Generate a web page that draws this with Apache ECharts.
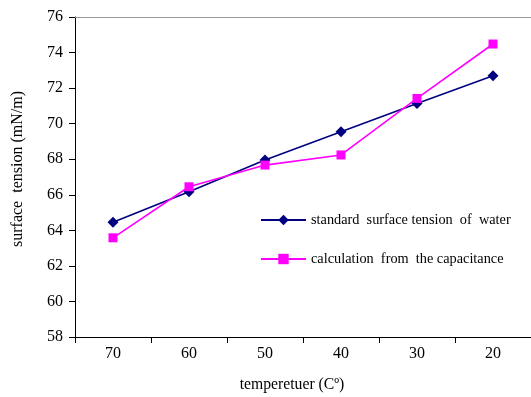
<!DOCTYPE html>
<html>
<head>
<meta charset="utf-8">
<script src="https://cdn.jsdelivr.net/npm/echarts@6/dist/echarts.min.js"></script>
<style>html,body{margin:0;padding:0;background:#fff}#c{width:531px;height:397px}</style>
</head>
<body>
<div id="c"></div>
<script>
var categories = ['70', '60', '50', '40', '30', '20'];
var standardValues = [64.45, 66.17, 67.96, 69.55, 71.14, 72.7];
var calculatedValues = [63.58, 66.45, 67.67, 68.24, 71.42, 74.48];
var seriesNames = ['standard  surface tension  of  water', 'calculation  from  the capacitance'];

var font = 'Liberation Serif, Times New Roman, serif';
var chart = echarts.init(document.getElementById('c'), null, {renderer: 'canvas'});
chart.setOption({
  animation: false,
  backgroundColor: '#fff',
  grid: {left: 75, right: 0, top: 17, bottom: 60, containLabel: false, outerBoundsMode: 'none'},
  legend: {
    orient: 'vertical', left: 255, top: 208, itemWidth: 45, itemHeight: 13, itemGap: 25,
    textStyle: {fontFamily: font, fontSize: 14.3, color: '#000'},
    data: seriesNames
  },
  xAxis: [{
    type: 'category', data: categories, boundaryGap: true,
    name: 'temperetuer (Cº)', nameLocation: 'middle', nameGap: 40,
    nameTextStyle: {fontFamily: font, fontSize: 15.7, color: '#000', padding: [0, 22, 0, 0]},
    axisLine: {lineStyle: {color: '#000', width: 1}},
    axisTick: {show: true, length: 6, lineStyle: {color: '#000'}},
    axisLabel: {fontFamily: font, fontSize: 16, color: '#000', margin: 9},
    splitLine: {show: false}
  }, {
    type: 'category', data: categories, position: 'top',
    axisLine: {lineStyle: {color: '#999', width: 1}},
    axisTick: {show: false}, axisLabel: {show: false}
  }],
  yAxis: {
    type: 'value', min: 58, max: 76, interval: 2,
    name: 'surface  tension (mN/m)', nameLocation: 'middle', nameGap: 49, nameRotate: 90,
    nameTextStyle: {fontFamily: font, fontSize: 16, color: '#000', padding: [0, 0, 0, 16]},
    axisLine: {show: true, lineStyle: {color: '#000', width: 1}},
    axisTick: {show: true, length: 6, lineStyle: {color: '#000'}},
    axisLabel: {fontFamily: font, fontSize: 16, color: '#000', margin: 12},
    splitLine: {show: false}
  },
  series: [{
    name: seriesNames[0], type: 'line', data: standardValues,
    symbol: 'diamond', symbolSize: 11,
    lineStyle: {color: '#000080', width: 1.6},
    itemStyle: {color: '#000080'}
  }, {
    name: seriesNames[1], type: 'line', data: calculatedValues,
    symbol: 'rect', symbolSize: 9,
    lineStyle: {color: '#FF00FF', width: 1.6},
    itemStyle: {color: '#FF00FF'}
  }]
});
</script>
</body>
</html>
